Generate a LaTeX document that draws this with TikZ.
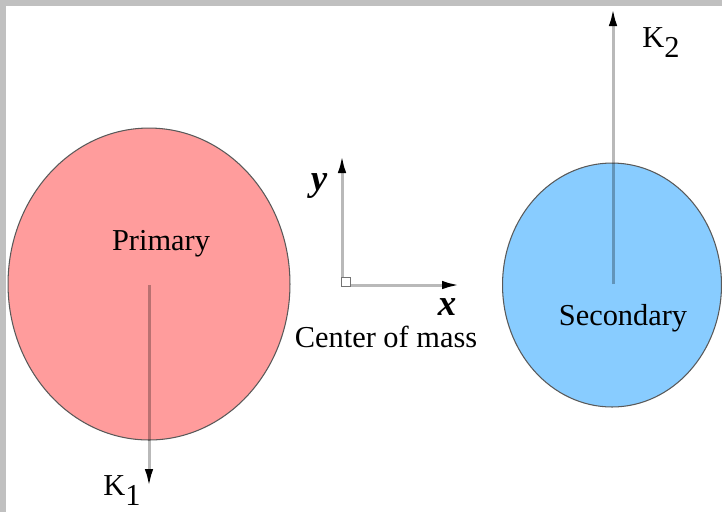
\documentclass[tikz,border=0pt]{standalone}
\usepackage{fontspec}
\setmainfont{Liberation Serif}
\usetikzlibrary{arrows.meta,positioning,shapes.geometric}
\definecolor{framegray}{RGB}{192,192,192}
\definecolor{primaryred}{RGB}{255,156,156}
\definecolor{secondaryblue}{RGB}{136,204,255}
\definecolor{vecgray}{RGB}{185,185,185}
\tikzset{
 star/.style={ellipse,draw=black!65,line width=0.6pt,inner sep=0pt},
 vec/.style={-{Latex[length=0.36cm,width=0.17cm,black]},draw=vecgray,line width=0.06cm,blend mode=multiply},
 lbl/.style={font=\fontsize{17.3}{20}\selectfont,inner sep=0pt,anchor=base},
 axlbl/.style={font=\fontsize{21}{24}\selectfont\bfseries\itshape,inner sep=0pt,anchor=base}}

\begin{document}
\begin{tikzpicture}[x=0.02cm,y=-0.02cm]
\fill[framegray] (0,0) rectangle (722,512);
\fill[white] (6,6) rectangle (722,512);
\useasboundingbox (0,0) rectangle (722,512);
% the two stars
\node[star,fill=primaryred,minimum width=5.64cm,minimum height=6.24cm] (primary) at (149,284) {};
\node[star,fill=secondaryblue,minimum width=4.38cm,minimum height=4.88cm] (secondary) at (612,285) {};
\node[lbl] (plabel) at (161,250) {Primary};
\node[lbl] (slabel) at (623,325) {Secondary};
% velocity vectors
\coordinate (p0) at (149,285);
\coordinate (k1tip) at (149,487);
\coordinate (s0) at (613,284);
\coordinate (k2tip) at (613,8);
\draw[vec] (p0) -- (k1tip);
\draw[vec] (s0) -- (k2tip);
\node[lbl,anchor=base west] (k1) at (103,495) {K\raisebox{-0.36em}{1}};
\node[lbl,anchor=base west] (k2) at (642,47) {K\raisebox{-0.36em}{2}};
% center of mass frame
\coordinate (o) at (342,285);
\coordinate (ytip) at (342,155);
\coordinate (xtip) at (460,285);
\draw[vec] (o) -- (ytip);
\draw[vec] (o) -- (xtip);
\node[draw=black!55,line width=0.5pt,fill=white,minimum size=0.19cm,inner sep=0pt] (cm) at (346,282) {};
\node[axlbl] (ylabel) at (319,190) {y};
\node[axlbl] (xlabel) at (447,315) {x};
\node[lbl] (cmlabel) at (386,347) {Center of mass};
\end{tikzpicture}
\end{document}
